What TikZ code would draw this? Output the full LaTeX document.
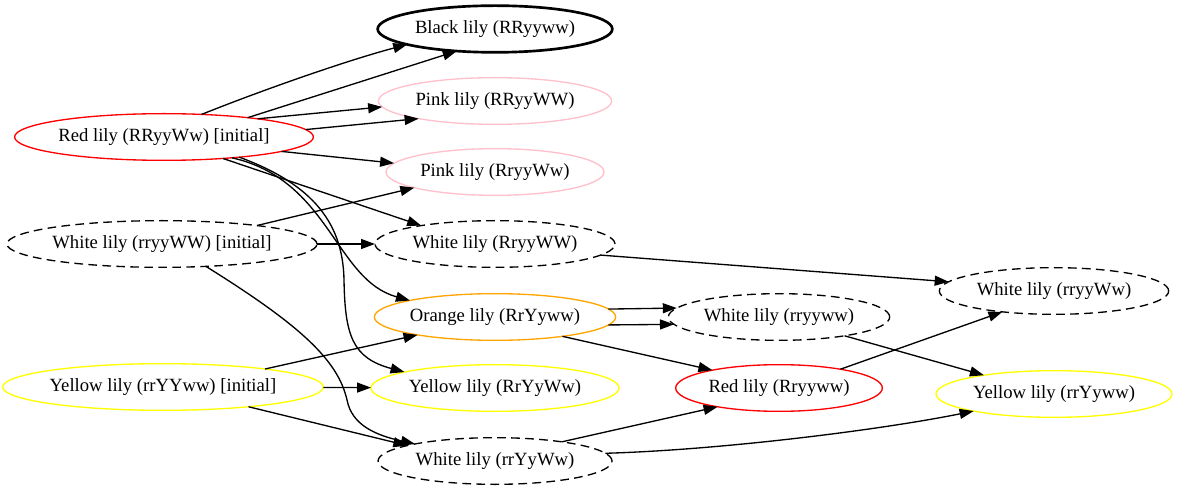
\documentclass[tikz,border=0pt]{standalone}
\usepackage{fontspec}
\setmainfont{Liberation Serif}
\usepackage{tikz}
\usetikzlibrary{arrows.meta, shapes}
\definecolor{lilyred}{RGB}{255, 0, 0}
\definecolor{lilypink}{RGB}{255, 192, 203}
\definecolor{lilyorange}{RGB}{255, 165, 0}
\definecolor{lilyyellow}{RGB}{255, 255, 0}

\begin{document}
\begin{tikzpicture}[x=0.75pt, y=-0.75pt,
        lily/.style={ellipse, draw, line width=1pt, inner sep=0pt, outer sep=0pt, minimum height=35pt, font=\fontsize{14}{16}\selectfont},
        redlily/.style={lily, draw=lilyred},
        pinklily/.style={lily, draw=lilypink},
        orangelily/.style={lily, draw=lilyorange},
        yellowlily/.style={lily, draw=lilyyellow},
        whitelily/.style={lily, dash pattern=on 6.5pt off 4pt},
        blacklily/.style={lily, line width=2pt},
        cross/.style={-{Triangle[length=10.5pt, width=7.5pt]}, line width=1pt}]
        \useasboundingbox (0,0) rectangle (1177,491);

        % Initial lilies
        \node[redlily, minimum width=223.5pt] (redinit) at (164,137) {Red lily (RRyyWw) [initial]};
        \node[whitelily, minimum width=231pt] (whiteinit) at (162,244) {White lily (rryyWW) [initial]};
        \node[yellowlily, minimum width=238pt] (yellowinit) at (163,387) {Yellow lily (rrYYww) [initial]};

        % First crosses
        \node[blacklily, minimum width=176pt] (black) at (495,29) {Black lily (RRyyww)};
        \node[pinklily, minimum width=175pt] (pinkRR) at (495,101) {Pink lily (RRyyWW)};
        \node[pinklily, minimum width=163.5pt] (pinkRr) at (495,172) {Pink lily (RryyWw)};
        \node[whitelily, minimum width=180pt] (whiteRrWW) at (495,244) {White lily (RryyWW)};
        \node[orangelily, minimum width=181pt] (orange) at (495,317) {Orange lily (RrYyww)};
        \node[yellowlily, minimum width=186pt] (yellowRr) at (495,388) {Yellow lily (RrYyWw)};
        \node[whitelily, minimum width=175.5pt] (whiterrYy) at (495,461) {White lily (rrYyWw)};

        % Second crosses
        \node[whitelily, minimum width=166pt] (whiterr) at (779,317) {White lily (rryyww)};
        \node[redlily, minimum width=155pt] (redRr) at (779,388) {Red lily (Rryyww)};
        \node[whitelily, minimum width=172pt] (whiterrWw) at (1054,291) {White lily (rryyWw)};
        \node[yellowlily, minimum width=177pt] (yellowrr) at (1054,394) {Yellow lily (rrYyww)};

        % Crosses from the red lily
        \draw[cross] (redinit.31) .. controls (260,91) and (345,61) .. (black.190);
        \draw[cross] (redinit.13.5) -- (black.210);
        \draw[cross] (redinit.11.5) -- (pinkRR.183);
        \draw[cross] (redinit.3) -- (pinkRR.193);
        \draw[cross] (redinit.-7) -- (pinkRr.175);
        \draw[cross] (redinit.-20) -- (whiteRrWW.166);
        \draw[cross] (redinit.-17) .. controls (330,180) and (335,280) .. (orange.169);
        \draw[cross] (redinit.-15) .. controls (315,185) and (343,225) .. (344,280)
            .. controls (345,335) and (352,358) .. (yellowRr.170);

        % Crosses from the white lily
        \draw[cross] (whiteinit.11) -- (pinkRr.191);
        \draw[cross] (whiteinit) -- (whiteRrWW);
        \draw[cross] (whiteinit.-27) .. controls (300,325) and (338,360) .. (347,400)
            .. controls (352,425) and (375,435) .. (whiterrYy.168);

        % Crosses from the yellow lily
        \draw[cross] (yellowinit.10) -- (orange.193);
        \draw[cross] (yellowinit) -- (yellowRr);
        \draw[cross] (yellowinit.-13) -- (whiterrYy.170);

        % Later crosses
        \draw[cross] (whiteRrWW.-6) -- (whiterrWw.175.5);
        \draw[cross] (orange.4.5) -- (whiterr.175.1);
        \draw[cross] (orange.-4.5) -- (whiterr.184.9);
        \draw[cross] (orange.-16) -- (redRr.165);
        \draw[cross] (whiterrYy.16) -- (redRr.197);
        \draw[cross] (whiterrYy.4) .. controls (720,450) and (880,430) .. (yellowrr.192);
        \draw[cross] (redRr.17) -- (whiterrWw.202);
        \draw[cross] (whiterr.-16) -- (yellowrr.165);
    \end{tikzpicture}
\end{document}
